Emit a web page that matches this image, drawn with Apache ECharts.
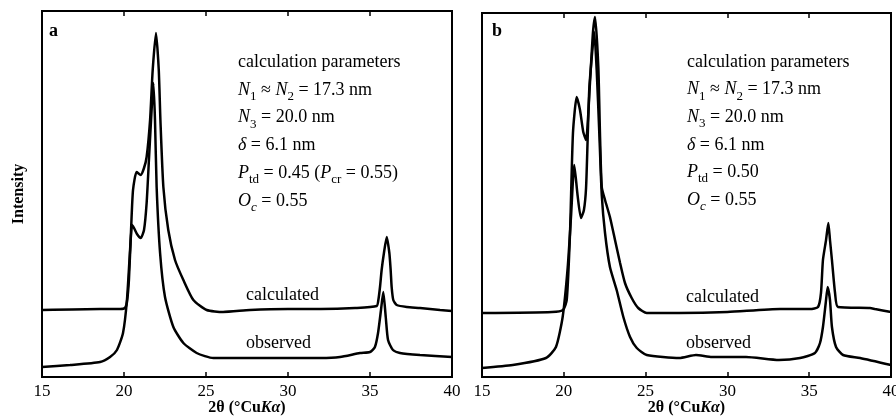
<!DOCTYPE html>
<html lang="en">
<head>
    <meta charset="UTF-8">
    <script src="https://cdn.jsdelivr.net/npm/echarts@6/dist/echarts.min.js"></script>
    <style>
        html, body { margin: 0; padding: 0; background: #fff; }
        #main { width: 896px; height: 416px; }
    </style>
</head>
<body>
    <div id="main"></div>
</body>
<script>
    // x ticks (2theta, degrees)
    var xTicks = [15, 20, 25, 30, 35, 40];

    // panel a: [2theta, intensity (arb.)]
    var calcA = [
        [15, 67], [18.54, 68], [19.76, 68], [20.06, 69], [20.18, 75], [20.30, 97],
        [20.43, 147], [20.55, 187], [20.77, 205], [21.02, 202], [21.22, 209], [21.38, 220],
        [21.59, 257], [21.75, 307], [21.95, 344], [22.12, 307], [22.22, 257], [22.40, 190],
        [22.70, 147], [23.11, 117], [23.62, 97], [24.23, 77], [25.04, 67], [26.04, 65],
        [27.68, 67], [30, 68], [32, 68], [34.09, 69], [35.41, 71], [35.51, 77],
        [35.61, 90], [35.71, 107], [35.85, 124], [36.02, 140], [36.18, 124], [36.26, 107],
        [36.32, 90], [36.42, 77], [36.63, 72], [37.24, 70], [38.05, 69], [39.27, 67], [40, 66]
    ];
    var obsA = [
        [15, 10], [16.71, 12], [18.54, 15], [19.15, 20], [19.57, 27], [19.94, 44],
        [20.18, 77], [20.37, 127], [20.49, 152], [20.61, 149], [20.79, 143], [21.02, 139],
        [21.22, 147], [21.38, 174], [21.52, 217], [21.65, 257], [21.79, 294], [21.89, 257],
        [21.99, 190], [22.20, 124], [22.50, 80], [23.01, 50], [23.62, 34], [24.43, 24],
        [25.45, 19], [27.68, 19], [30, 19], [32, 19], [33.17, 20], [34.39, 24], [35.00, 25],
        [35.30, 30], [35.49, 44], [35.67, 67], [35.81, 85], [35.96, 60], [36.10, 37],
        [36.40, 27], [36.83, 24], [38.05, 22], [40, 20]
    ];

    // panel b
    var calcB = [
        [15, 64], [19.28, 65], [19.95, 67], [20.18, 77], [20.38, 144], [20.56, 244],
        [20.79, 280], [20.99, 267], [21.19, 245], [21.36, 237], [21.60, 294], [21.78, 344],
        [21.91, 360], [22.11, 310], [22.21, 244], [22.32, 190], [22.52, 177], [22.82, 160],
        [23.13, 137], [23.44, 114], [23.74, 94], [24.15, 79], [24.55, 69], [25.07, 64],
        [27.04, 64], [30, 65], [33.22, 68], [35.05, 68], [35.54, 70], [35.72, 84],
        [35.84, 117], [36.03, 137], [36.17, 154], [36.27, 137], [36.39, 117], [36.58, 84],
        [36.76, 70], [38.72, 69], [39.02, 68], [40, 65]
    ];
    var obsB = [
        [15, 9], [16.88, 12], [18.91, 19], [19.52, 30], [19.93, 60], [20.24, 110],
        [20.44, 160], [20.64, 212], [20.84, 182], [21.05, 159], [21.23, 167], [21.36, 189],
        [21.46, 239], [21.56, 289], [21.72, 322], [21.86, 345], [22.01, 307], [22.17, 244],
        [22.32, 182], [22.52, 144], [22.82, 110], [23.23, 87], [23.64, 60], [24.05, 40],
        [24.46, 29], [25.07, 22], [27.06, 19], [28.08, 22], [29.06, 20], [31.14, 20],
        [33.15, 17], [34.44, 19], [35.35, 24], [35.66, 34], [35.84, 50], [36.01, 74],
        [36.13, 90], [36.27, 77], [36.39, 50], [36.64, 30], [37.07, 22], [38.11, 19], [40, 12]
    ];

    var paramsA = [
        '{n|calculation parameters}',
        '{i|N}{s|1}{n| ≈ }{i|N}{s|2}{n| = 17.3 nm}',
        '{i|N}{s|3}{n| = 20.0 nm}',
        '{i|δ}{n| = 6.1 nm}',
        '{i|P}{s|td}{n| = 0.45 (}{i|P}{s|cr}{n| = 0.55)}',
        '{i|O}{si|c}{n| = 0.55}'
    ];
    var paramsB = [
        '{n|calculation parameters}',
        '{i|N}{s|1}{n| ≈ }{i|N}{s|2}{n| = 17.3 nm}',
        '{i|N}{s|3}{n| = 20.0 nm}',
        '{i|δ}{n| = 6.1 nm}',
        '{i|P}{s|td}{n| = 0.50}',
        '{i|O}{si|c}{n| = 0.55}'
    ];

    var serif = '"Liberation Serif", "DejaVu Serif", serif';
    var rich = {
        n: { fontFamily: serif, fontSize: 18, lineHeight: 26, fill: '#000' },
        i: { fontFamily: serif, fontSize: 18, fontStyle: 'italic', lineHeight: 26, fill: '#000' },
        s: { fontFamily: serif, fontSize: 13, lineHeight: 14, verticalAlign: 'bottom', fill: '#000' },
        si: { fontFamily: serif, fontSize: 13, fontStyle: 'italic', lineHeight: 14, verticalAlign: 'bottom', fill: '#000' }
    };

    function textBlock(lines, x, y0, step) {
        return lines.map(function (t, k) {
            return {
                type: 'text', x: x, y: y0 + k * step,
                style: { text: t, rich: rich, verticalAlign: 'middle', fill: '#000' }
            };
        });
    }
    function label(t, x, y, bold) {
        return {
            type: 'text', x: x, y: y,
            style: { text: t, fontFamily: serif, fontSize: 18, fontWeight: bold ? 'bold' : 'normal',
                     verticalAlign: 'middle', fill: '#000' }
        };
    }

    var nameRich = {
        b: { fontFamily: serif, fontSize: 16, fontWeight: 'bold', color: '#000', lineHeight: 16 },
        bi: { fontFamily: serif, fontSize: 16, fontWeight: 'bold', fontStyle: 'italic', color: '#000', lineHeight: 16 }
    };

    function xAx(gi, top) {
        return {
            type: 'value', gridIndex: gi, min: 15, max: 40, interval: 5,
            position: top ? 'top' : 'bottom',
            axisLine: { show: false },
            axisTick: { show: true, inside: true, length: 5, lineStyle: { color: '#000', width: 1.5 } },
            axisLabel: top ? { show: false } : {
                show: true, color: '#000', fontFamily: serif, fontSize: 17, margin: 6,
                formatter: function (v) { return xTicks.indexOf(v) >= 0 ? String(v) : ''; }
            },
            splitLine: { show: false },
            name: top ? '' : '{b|2θ (°Cu}{bi|Kα}{b|)}',
            nameLocation: 'middle', nameGap: 23, nameMoveOverlap: false,
            nameTextStyle: { rich: nameRich, lineHeight: 16 }
        };
    }
    function yAx(gi, max, named) {
        return {
            type: 'value', gridIndex: gi, min: 0, max: max,
            axisLine: { show: false }, axisTick: { show: false },
            axisLabel: { show: false }, splitLine: { show: false },
            name: named ? 'Intensity' : '', nameLocation: 'middle', nameGap: 15, nameMoveOverlap: false,
            nameTextStyle: { fontFamily: serif, fontSize: 16, fontWeight: 'bold', color: '#000' }
        };
    }
    function line(data, xi, yi) {
        return {
            type: 'line', data: data, xAxisIndex: xi, yAxisIndex: yi,
            showSymbol: false, smooth: 0.2, silent: true,
            lineStyle: { color: '#000', width: 2.5 }
        };
    }

    var myChart = echarts.init(document.getElementById('main'));
    var option = {
        animation: false,
        backgroundColor: '#fff',
        grid: [
            { left: 42, right: 444, top: 11, bottom: 39, show: true, borderColor: '#000', borderWidth: 2,
              outerBoundsMode: 'none' },
            { left: 482, right: 5, top: 13, bottom: 39, show: true, borderColor: '#000', borderWidth: 2,
              outerBoundsMode: 'none' }
        ],
        xAxis: [xAx(0, false), xAx(0, true), xAx(1, false), xAx(1, true)],
        yAxis: [yAx(0, 366, true), yAx(1, 364, false)],
        series: [
            line(calcA, 0, 0), line(obsA, 0, 0),
            line(calcB, 2, 1), line(obsB, 2, 1)
        ],
        graphic: [].concat(
            [label('a', 49, 31, true), label('b', 492, 31, true)],
            textBlock(paramsA, 238, 62, 27.8),
            textBlock(paramsB, 687, 62, 27.6),
            [label('calculated', 246, 295), label('observed', 246, 343),
             label('calculated', 686, 297), label('observed', 686, 343)]
        )
    };
    myChart.setOption(option);
    window.onresize = function () {
        myChart.resize();
    };
</script>
</html>
